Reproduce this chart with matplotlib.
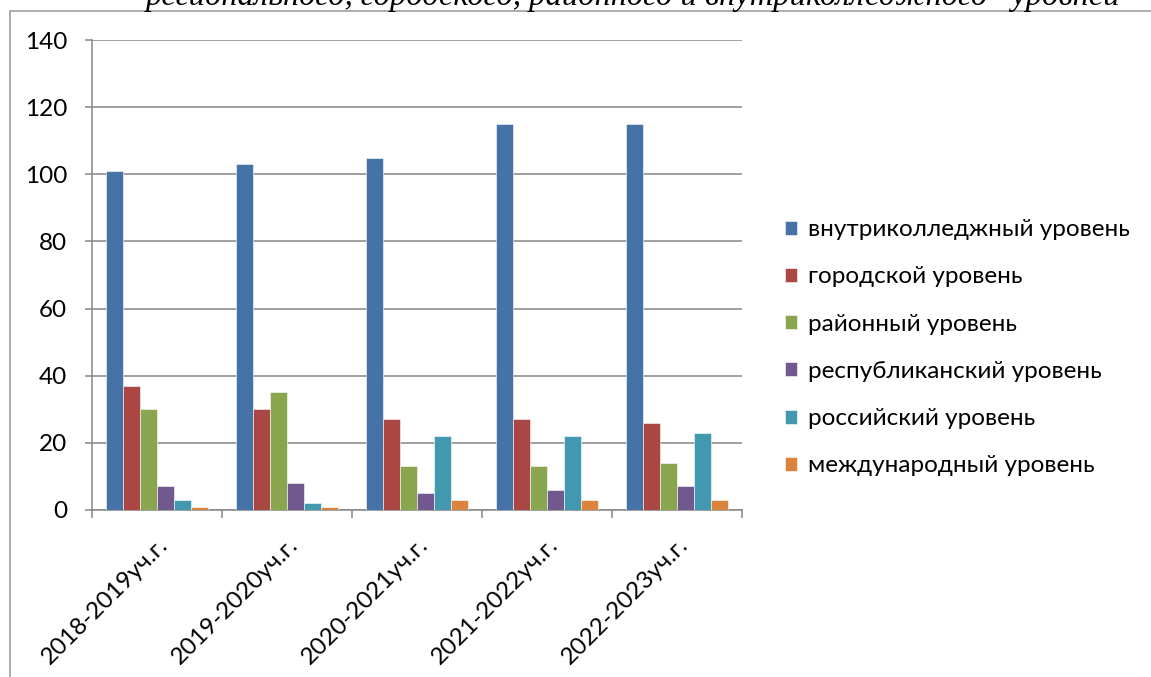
import numpy as np
import matplotlib.pyplot as plt
from matplotlib.patches import Rectangle

# school years on the x axis
years = ["2018-2019уч.г.", "2019-2020уч.г.", "2020-2021уч.г.",
         "2021-2022уч.г.", "2022-2023уч.г."]

# one list per level, values per year
college = [101, 103, 105, 115, 115]
city = [37, 30, 27, 27, 26]
district = [30, 35, 13, 13, 14]
republic = [7, 8, 5, 6, 7]
russia = [3, 2, 22, 22, 23]
international = [1, 1, 3, 3, 3]

levels = ["внутриколледжный уровень", "городской уровень", "районный уровень",
          "республиканский уровень", "российский уровень", "международный уровень"]
colors = ['#4572a7', '#aa4643', '#89a54e', '#71588f', '#4198af', '#db843d']

title = "регионального, городского, районного и внутриколледжного   уровней"

plt.rcParams['font.family'] = ['Lato', 'DejaVu Sans']
grey = '#868686'

fig = plt.figure(figsize=(11.51, 6.77), dpi=100)
ax = fig.add_axes([0.0799, 0.2467, 0.5647, 0.6942])

series = [college, city, district, republic, russia, international]
x = np.arange(len(years))
bar_width = 0.79 / len(series)
for i, vals in enumerate(series):
    offs = -0.395 + bar_width * (i + 0.5)
    ax.bar(x + offs, vals, bar_width, color=colors[i], label=levels[i],
           edgecolor='white', linewidth=0.4, zorder=3)

ax.set_xlim(-0.5, len(years) - 0.5)
ax.set_ylim(0, 140)
ax.set_yticks(np.arange(0, 141, 20))
ax.yaxis.grid(True, color=grey, linewidth=1.1, zorder=0)
ax.tick_params(axis='y', length=5, width=1.1, color=grey, pad=13, labelsize=17.5)

# category ticks sit on the boundaries, labels in the middle
ax.set_xticks(np.arange(-0.5, len(years), 1.0))
ax.set_xticklabels([])
ax.set_xticks(x, minor=True)
ax.set_xticklabels(years, minor=True, rotation=45, ha='right', va='top',
                   rotation_mode='anchor', fontsize=17.5)
ax.tick_params(axis='x', which='major', length=6, width=1.1, color=grey)
ax.tick_params(axis='x', which='minor', length=0, pad=17)

for s in ['top', 'right']:
    ax.spines[s].set_visible(False)
for s in ['left', 'bottom']:
    ax.spines[s].set_color(grey)
    ax.spines[s].set_linewidth(1.1)

leg = ax.legend(loc='center left', bbox_to_anchor=(1.033, 0.345), frameon=False,
                fontsize=17.5, handlelength=0.5, handleheight=0.5,
                handletextpad=0.45, labelspacing=1.08)

# outer chart frame, cut off at the right and bottom like the reference
fig.patches.append(Rectangle((10 / 1151, -0.1), 1.2, 1 - 11 / 677 + 0.1,
                             transform=fig.transFigure, fill=False,
                             edgecolor='#a0a0a0', linewidth=1.2))

# heading clipped at the top edge
fig.text(0.55, 1 - 4.5 / 677, title, ha='center', va='baseline', fontsize=23.5,
         family='Liberation Serif', style='italic')

fig.savefig("out.png", dpi=100)
